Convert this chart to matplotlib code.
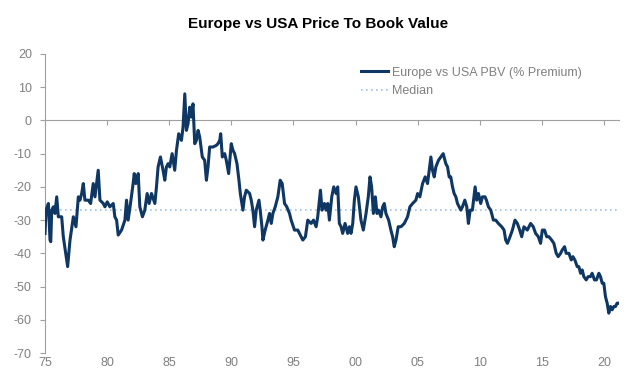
import numpy as np
import matplotlib.pyplot as plt
from matplotlib.ticker import FixedLocator

plt.rcParams['font.family'] = ['Liberation Sans', 'DejaVu Sans']
plt.rcParams['axes.unicode_minus'] = False

# values (year, % premium)
years = [1975.00, 1975.08, 1975.27, 1975.40, 1975.46, 1975.54, 1975.67, 1975.80, 1975.94, 1976.07,
         1976.34, 1976.47, 1976.82, 1977.01, 1977.28, 1977.49, 1977.68, 1977.81, 1977.95, 1978.08,
         1978.21, 1978.48, 1978.67, 1978.88, 1979.02, 1979.28, 1979.42, 1979.69, 1979.82, 1980.01,
         1980.22, 1980.49, 1980.62, 1980.76, 1980.89, 1981.16, 1981.43, 1981.56, 1981.69, 1981.88,
         1982.09, 1982.18, 1982.31, 1982.50, 1982.63, 1982.84, 1983.03, 1983.22, 1983.38, 1983.57,
         1983.84, 1983.97, 1984.10, 1984.29, 1984.50, 1984.64, 1984.77, 1984.91, 1985.04, 1985.23,
         1985.44, 1985.58, 1985.76, 1985.98, 1986.11, 1986.25, 1986.38, 1986.51, 1986.65, 1986.78,
         1986.91, 1987.05, 1987.18, 1987.32, 1987.45, 1987.66, 1987.85, 1987.99, 1988.12, 1988.25,
         1988.52, 1988.79, 1988.92, 1989.06, 1989.14, 1989.27, 1989.46, 1989.59, 1989.78, 1989.99,
         1990.13, 1990.26, 1990.45, 1990.61, 1990.72, 1990.93, 1991.06, 1991.20, 1991.47, 1991.60,
         1991.73, 1991.87, 1992.00, 1992.22, 1992.32, 1992.46, 1992.54, 1992.72, 1992.94, 1993.07,
         1993.21, 1993.34, 1993.53, 1993.74, 1993.93, 1994.09, 1994.28, 1994.46, 1994.68, 1994.81,
         1995.08, 1995.35, 1995.48, 1995.75, 1995.96, 1996.15, 1996.42, 1996.61, 1996.82, 1996.95,
         1997.17, 1997.30, 1997.49, 1997.62, 1997.76, 1997.89, 1998.08, 1998.24, 1998.43, 1998.56,
         1998.69, 1998.83, 1998.96, 1999.15, 1999.36, 1999.50, 1999.63, 1999.77, 1999.90, 2000.03,
         2000.22, 2000.43, 2000.62, 2000.84, 2001.02, 2001.16, 2001.29, 2001.43, 2001.59, 2001.72,
         2001.85, 2002.04, 2002.18, 2002.31, 2002.44, 2002.66, 2002.84, 2002.98, 2003.11, 2003.25,
         2003.43, 2003.65, 2003.92, 2004.18, 2004.37, 2004.59, 2004.85, 2004.99, 2005.17, 2005.39,
         2005.60, 2005.79, 2006.06, 2006.19, 2006.33, 2006.46, 2006.67, 2006.86, 2007.05, 2007.26,
         2007.40, 2007.53, 2007.66, 2007.80, 2007.93, 2008.07, 2008.20, 2008.47, 2008.60, 2008.79,
         2008.95, 2009.08, 2009.22, 2009.40, 2009.62, 2009.75, 2009.89, 2010.07, 2010.21, 2010.42,
         2010.53, 2010.69, 2010.88, 2011.09, 2011.28, 2011.49, 2011.76, 2011.95, 2012.08, 2012.22,
         2012.43, 2012.62, 2012.83, 2013.02, 2013.21, 2013.37, 2013.55, 2013.82, 2014.09, 2014.30,
         2014.49, 2014.71, 2014.89, 2015.03, 2015.21, 2015.38, 2015.56, 2015.78, 2015.96, 2016.15,
         2016.31, 2016.50, 2016.63, 2016.82, 2016.95, 2017.17, 2017.36, 2017.49, 2017.65, 2017.84,
         2017.97, 2018.11, 2018.24, 2018.37, 2018.56, 2018.72, 2018.91, 2019.04, 2019.23, 2019.39,
         2019.58, 2019.71, 2019.85, 2019.98, 2020.11, 2020.25, 2020.38, 2020.52, 2020.65, 2020.79,
         2020.92, 2021.05, 2021.13]
pbv = [-34, -27, -25, -36, -36.5, -27, -26, -28, -23, -29,
       -29, -35, -44, -36, -29, -32, -23, -24, -22, -19,
       -24, -24, -25, -19, -23, -15, -24, -25, -26, -24.5,
       -26, -25, -29, -30, -34.5, -33, -30, -24, -30, -25,
       -19, -16, -19, -16, -26, -29, -27, -22, -25, -22,
       -25, -20, -14, -11, -15, -18, -14, -13, -14, -10,
       -15, -9, -4, -6, -2, 8, -3, -1, 4, 1,
       5, -7, -6, -3, -5, -11, -12, -18, -14, -8,
       -8, -7.5, -7, -6, -4, -11, -10, -12, -16, -7,
       -9, -10, -13, -18, -22, -27, -23, -21, -22, -24,
       -27, -32, -27, -24, -27, -32, -36, -33, -30, -28,
       -31, -28, -26, -23, -18, -19, -25, -26, -28, -30,
       -33, -33, -34, -36, -35, -30, -31, -30, -32, -29,
       -21, -27, -25, -27, -25, -30, -23, -20, -22, -20,
       -31, -32, -34, -31, -34, -32, -34, -31, -24, -20,
       -23, -30, -33, -28, -23, -17, -20, -28, -23, -28,
       -27, -29, -26, -25, -28, -30, -33, -35, -38, -36,
       -32, -32, -31, -29, -26, -25, -24, -22, -23, -19,
       -17, -19, -11, -15, -17, -14, -12, -11, -10, -13,
       -14, -17, -17, -20, -22, -23, -25, -27, -26, -24,
       -26, -31, -27, -27, -20, -24, -22, -25, -23, -23,
       -24, -26, -27, -30, -30, -31, -32, -33, -36, -37,
       -35, -33, -30, -31, -33, -35, -32, -33, -31, -32,
       -34, -35, -37, -33, -33, -35, -35, -36, -37, -40,
       -41, -40, -39, -38, -40, -40, -42, -41, -42, -44,
       -44, -46, -45, -47, -48, -47, -47, -46, -48, -48,
       -46, -47, -49, -49, -53, -55, -58, -56, -57, -56,
       -56, -55, -55]
median = -27
xtick_years = [1975, 1980, 1985, 1990, 1995, 2000, 2005, 2010, 2015, 2020]
xtick_labels = ['75', '80', '85', '90', '95', '00', '05', '10', '15', '20']

grey = '#808080'
axis_grey = '#a0a0a0'
navy = '#0f3763'

fig = plt.figure(figsize=(6.37, 3.8), dpi=100)
ax = fig.add_axes([0.0707, 0.071, 0.901, 0.787])

ax.plot(years, pbv, color=navy, lw=2.2, label='Europe vs USA PBV (% Premium)', zorder=3)
ax.axhline(median, color='#9dc3e6', lw=1.2, ls=(0, (1, 2)), label='Median', zorder=2)

ax.set_xlim(1975, 2021.2)
ax.set_ylim(-70, 20)
ax.set_yticks(np.arange(-70, 21, 10))

# x axis line sits at zero, labels stay at the bottom
ax.spines['bottom'].set_position(('data', 0))
ax.spines['bottom'].set_color(axis_grey)
ax.spines['left'].set_color(axis_grey)
ax.spines['top'].set_visible(False)
ax.spines['right'].set_visible(False)
ax.xaxis.set_major_locator(FixedLocator(xtick_years))
ax.tick_params(axis='x', direction='out', length=3.5, color=axis_grey, labelbottom=False)
ax.tick_params(axis='y', direction='out', length=3.5, color=axis_grey, labelcolor=grey,
               labelsize=9, pad=6)

sec = ax.secondary_xaxis('bottom')
sec.set_xticks(xtick_years, xtick_labels)
sec.spines['bottom'].set_visible(False)
sec.tick_params(length=0, labelcolor=grey, labelsize=9, pad=3)

leg = ax.legend(loc='upper right', bbox_to_anchor=(0.955, 0.995), frameon=False, fontsize=9,
                handlelength=2.2, handletextpad=0.3, labelspacing=0.5)
for t in leg.get_texts():
    t.set_color(grey)

fig.suptitle('Europe vs USA Price To Book Value', fontsize=11, fontweight='bold', y=0.955)

fig.savefig('out.png', dpi=100)
